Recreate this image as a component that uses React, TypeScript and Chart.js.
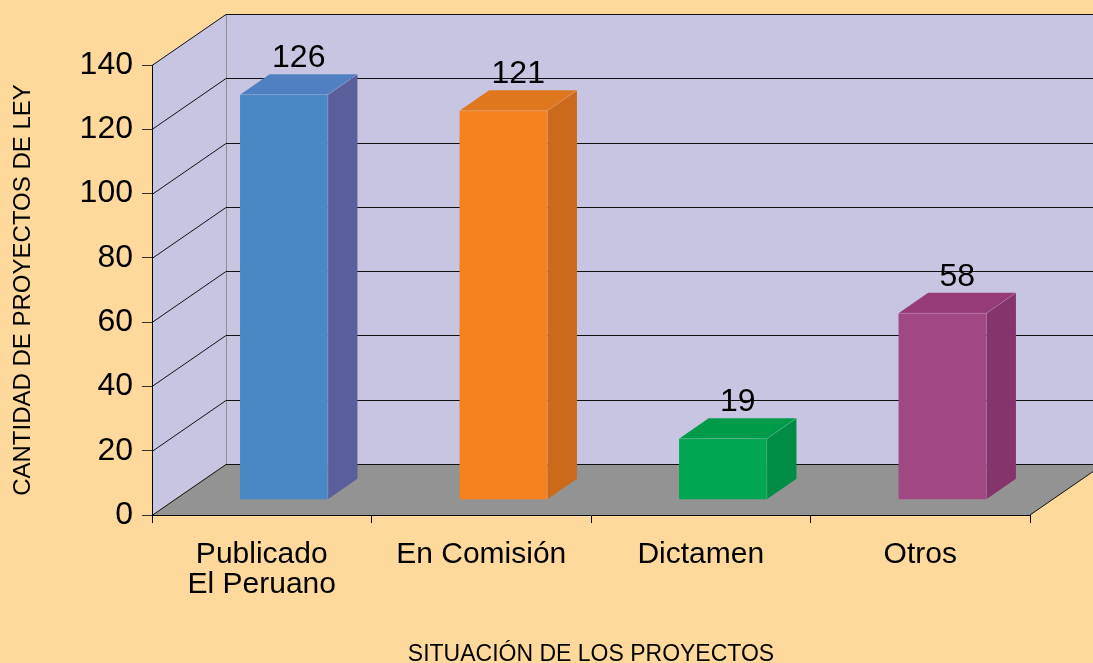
import React, { useEffect, useRef } from "react";
import { Chart, registerables } from "chart.js";

Chart.register(...registerables);

// ---- data ----
const categories: (string | string[])[] = [["Publicado", "El Peruano"], "En Comisión", "Dictamen", "Otros"];
const values: number[] = [126, 121, 19, 58];
const yMin = 0;
const yMax = 140;
const yStep = 20;
const yAxisTitle = "CANTIDAD DE PROYECTOS DE LEY";
const xAxisTitle = "SITUACIÓN DE LOS PROYECTOS";

// ---- styles ----
const FONT = "'Liberation Sans', Arial, Helvetica, sans-serif";
const BG = "#FFD99B";
const WALL = "#C8C5E2";
const FLOOR = "#939393";
const frontColors = ["#4A87C5", "#F5821F", "#00A651", "#A14784"];
const topColors = ["#5080C1", "#DE771E", "#009B49", "#973B78"];
const sideColors = ["#5A5F9C", "#CA6A1A", "#008C44", "#85356B"];

// 3D depth (oblique projection)
const DX = 74;
const DY = -51;
const F0 = 0.3; // bar front plane (fraction of depth)
const F1 = 0.7; // bar back plane

function poly(ctx: CanvasRenderingContext2D, pts: number[]) {
  ctx.beginPath();
  ctx.moveTo(pts[0], pts[1]);
  for (let i = 2; i < pts.length; i += 2) ctx.lineTo(pts[i], pts[i + 1]);
  ctx.closePath();
}

const wallsPlugin = {
  id: "walls3d",
  beforeDraw(chart: any) {
    const { ctx, chartArea: a } = chart;
    const y = chart.scales.y;
    const L = a.left, R = a.right, T = a.top, B = a.bottom;
    ctx.save();
    // back wall
    ctx.fillStyle = WALL;
    ctx.fillRect(L + DX, T + DY, R - L, B - T);
    // left wall
    poly(ctx, [L, T, L + DX, T + DY, L + DX, B + DY, L, B]);
    ctx.fill();
    // floor
    ctx.fillStyle = FLOOR;
    poly(ctx, [L, B, L + DX, B + DY, R + DX, B + DY, R, B]);
    ctx.fill();
    // back wall left edge
    ctx.strokeStyle = "#8E8E8E";
    ctx.lineWidth = 1;
    ctx.beginPath();
    ctx.moveTo(Math.round(L + DX) + 0.5, T + DY);
    ctx.lineTo(Math.round(L + DX) + 0.5, B + DY);
    ctx.stroke();
    // grid lines on left and back walls
    ctx.strokeStyle = "#111";
    for (const t of y.ticks) {
      const yy = Math.round(y.getPixelForValue(t.value)) + 0.5;
      ctx.beginPath();
      ctx.moveTo(L, yy);
      ctx.lineTo(L + DX, yy + DY);
      ctx.lineTo(R + DX, yy + DY);
      ctx.stroke();
    }
    // floor right edge
    ctx.beginPath();
    ctx.moveTo(R, B);
    ctx.lineTo(R + DX, B + DY);
    ctx.stroke();
    ctx.restore();
  },
};

const bar3dPlugin = {
  id: "bar3d",
  beforeDatasetsDraw(chart: any) {
    chart.ctx.save();
    chart.ctx.translate(DX * F0, DY * F0);
  },
  afterDatasetsDraw(chart: any) {
    const ctx: CanvasRenderingContext2D = chart.ctx;
    ctx.restore();
    const meta = chart.getDatasetMeta(0);
    const bdx = DX * (F1 - F0);
    const bdy = DY * (F1 - F0);
    ctx.save();
    meta.data.forEach((el: any, i: number) => {
      const l = el.x - el.width / 2 + DX * F0;
      const r = el.x + el.width / 2 + DX * F0;
      const t = el.y + DY * F0;
      const b = el.base + DY * F0;
      ctx.fillStyle = topColors[i];
      poly(ctx, [l, t, l + bdx, t + bdy, r + bdx, t + bdy, r, t]);
      ctx.fill();
      ctx.fillStyle = sideColors[i];
      poly(ctx, [r, t, r + bdx, t + bdy, r + bdx, b + bdy, r, b]);
      ctx.fill();
      // subtle highlight edges
      ctx.strokeStyle = "rgba(255,255,255,0.18)";
      ctx.lineWidth = 1;
      ctx.beginPath();
      ctx.moveTo(l, t);
      ctx.lineTo(r, t);
      ctx.lineTo(r + bdx, t + bdy);
      ctx.moveTo(r, t);
      ctx.lineTo(r, b);
      ctx.stroke();
      // value label
      ctx.fillStyle = "#000";
      ctx.font = `32px ${FONT}`;
      ctx.textAlign = "center";
      ctx.textBaseline = "middle";
      ctx.fillText(String(values[i]), (l + r + bdx) / 2, t + bdy - 16);
    });
    ctx.restore();
  },
};

export default function App() {
  const ref = useRef<HTMLCanvasElement>(null);
  useEffect(() => {
    const canvas = ref.current!;
    Chart.defaults.font.family = FONT;
    const chart = new Chart(canvas, {
      type: "bar",
      data: {
        labels: categories as any,
        datasets: [
          {
            data: values,
            backgroundColor: frontColors,
            borderWidth: 0,
            categoryPercentage: 1,
            barPercentage: 0.4,
            clip: false as any,
          },
        ],
      },
      options: {
        responsive: false,
        animation: false,
        layout: { padding: { left: 0, right: 63, top: 65, bottom: 0 } },
        plugins: { legend: { display: false }, tooltip: { enabled: false } },
        scales: {
          x: {
            offset: true,
            grid: { display: true, drawOnChartArea: false, drawTicks: true, tickLength: 8, color: "#000", offset: true },
            border: { display: true, color: "#000", width: 1 },
            ticks: { font: { size: 30, lineHeight: 1 }, color: "#000", padding: 17, maxRotation: 0, minRotation: 0, autoSkip: false },
            title: { display: true, text: xAxisTitle, color: "#000", font: { size: 23, lineHeight: 0.7 }, padding: { top: 0, bottom: 0 } },
            afterFit: (s: any) => {
              s.height = 148;
            },
          },
          y: {
            min: yMin,
            max: yMax,
            ticks: { stepSize: yStep, font: { size: 32 }, color: "#000", padding: 9 },
            grid: { display: true, drawOnChartArea: false, drawTicks: true, tickLength: 10, color: "#333" },
            border: { display: true, color: "#000", width: 1 },
            title: { display: true, text: yAxisTitle, color: "#000", font: { size: 24, lineHeight: 1 }, padding: { top: 11, bottom: 0 } },
            afterFit: (s: any) => {
              s.width = 152;
            },
          },
        },
      } as any,
      plugins: [wallsPlugin, bar3dPlugin],
    });
    return () => chart.destroy();
  }, []);
  return (
    <div style={{ position: "absolute", left: 0, top: 0, width: 1093, height: 663, background: BG, overflow: "hidden" }}>
      <canvas ref={ref} width={1093} height={663} style={{ display: "block" }} />
    </div>
  );
}
